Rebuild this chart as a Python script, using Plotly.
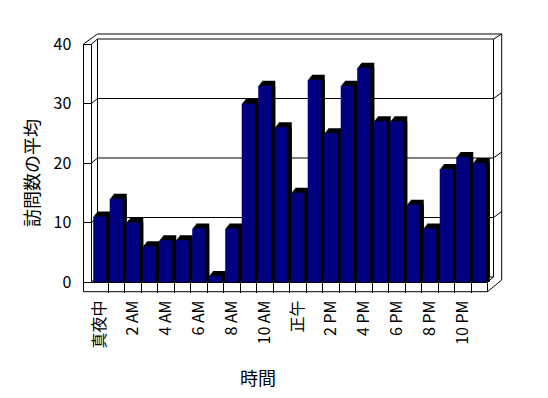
import plotly.graph_objects as go

# ---- data ----
hours = list(range(24))
visits = [11, 14, 10, 6, 7, 7, 9, 1, 9, 30, 33, 26, 15, 34, 25, 33, 36, 27, 27, 13, 9, 19, 21, 20]
tick_hours = [0, 2, 4, 6, 8, 10, 12, 14, 16, 18, 20, 22]
tick_labels = ["真夜中", "2 AM", "4 AM", "6 AM", "8 AM", "10 AM", "正午",
               "2 PM", "4 PM", "6 PM", "8 PM", "10 PM"]
y_ticks = [0, 10, 20, 30, 40]
x_title = "時間"
y_title = "訪問数の平均"

# the page body has an 8px margin, so the figure is 540x390 and offset by 8px
OFF = 8
W, H = 540, 390
FONT = "Noto Sans CJK JP, Noto Sans, sans-serif"

# geometry (window pixels)
FX0, FX1 = 91.5, 487.5      # front category range
FY0, FYT = 282.0, 44.0      # front y: value 0 and value 40
DX, DY = 6.0, -5.0          # depth offset to back wall
FLOOR_B = 291.7
WALL_L = 83.5
OUT_R = 501.7
OUT_T = 34.0
# depth layers used to draw the black top / side faces of each bar
DEPTH_LAYERS = [(1, -1.25), (2, -2.5), (3, -3.75), (4, -5.0), (4, 0.0)]


def px(x):
    return (x - OFF) / W


def py(y):
    return 1 - (y - OFF) / H


fig = go.Figure()
layout_axes = {}
n = len(DEPTH_LAYERS)
for i, (sx, sy) in enumerate(DEPTH_LAYERS):
    idx = "" if i == 0 else str(i + 1)
    fig.add_trace(go.Bar(x=hours, y=visits,
                         marker=dict(color="black", line=dict(width=0)),
                         xaxis="x" + idx, yaxis="y" + idx,
                         hoverinfo="skip", showlegend=False))
    layout_axes["xaxis" + idx] = dict(
        domain=[px(FX0 + sx), px(FX1 + sx)], range=[-0.5, 23.5],
        visible=False, anchor="y" + idx, fixedrange=True, automargin=False)
    layout_axes["yaxis" + idx] = dict(
        domain=[py(FY0 + sy), py(FYT + sy)], range=[0, 40],
        visible=False, anchor="x" + idx, fixedrange=True, automargin=False)

# front faces
fidx = str(n + 1)
fig.add_trace(go.Bar(x=hours, y=visits, marker=dict(color="#000080", line=dict(width=0)),
                     xaxis="x" + fidx, yaxis="y" + fidx, showlegend=False))

axis_font = dict(family=FONT, size=16, color="black")
layout_axes["xaxis" + fidx] = dict(
    domain=[px(FX0), px(FX1)], range=[-0.5, 23.5],
    tickvals=tick_hours, ticktext=tick_labels, tickangle=-90,
    ticks="", ticklabelstandoff=11,
    minor=dict(tickvals=[h + 0.5 for h in hours[:-1]], ticks="outside",
               ticklen=10, tickcolor="black", tickwidth=1),
    showgrid=False, zeroline=False, showline=True, linecolor="black",
    linewidth=1, anchor="y" + fidx, tickfont=axis_font, automargin=False,
    fixedrange=True)
layout_axes["yaxis" + fidx] = dict(
    domain=[py(FY0), py(FYT)], range=[0, 40],
    tickvals=y_ticks, ticks="outside", ticklen=8, tickcolor="black",
    ticklabelstandoff=8, automargin=False,
    showgrid=False, zeroline=False, showline=True, linecolor="black",
    linewidth=1, anchor="x" + fidx, tickfont=axis_font, fixedrange=True)

shapes = []


def line(x0, y0, x1, y1):
    shapes.append(dict(type="line", xref="paper", yref="paper",
                       x0=px(x0), y0=py(y0), x1=px(x1), y1=py(y1),
                       line=dict(color="black", width=1), layer="below"))


scale = (FY0 - FYT) / 40.0
BX0, BX1 = FX0 + DX, FX1 + DX
BY0, BYT = FY0 + DY, FYT + DY

# back-wall gridlines, in the back-plane value axis (layer offset by the wall depth)
for v in y_ticks[1:-1]:
    shapes.append(dict(type="line", xref="paper", yref="y4",
                       x0=px(BX0), x1=px(BX1), y0=v, y1=v,
                       line=dict(color="black", width=1), layer="below"))

# left wall
line(WALL_L, FYT, WALL_L, FLOOR_B)
line(WALL_L, FYT, BX0, OUT_T)
line(FX0, FYT, BX0, BYT)
# back wall
line(BX0, OUT_T, OUT_R, OUT_T)
line(BX0, BYT, BX1, BYT)
line(BX0, BYT, BX0, BY0)
line(BX1, BYT, BX1, BY0)
line(BX1, BYT, OUT_R, OUT_T)
line(OUT_R, OUT_T, OUT_R, BY0 + 3)
# gridline joins (left diagonals and right diagonals)
for v in y_ticks[1:-1]:
    yf = FY0 - v * scale
    line(FX0, yf, BX0, yf + DY)
    line(BX1, yf + DY, OUT_R, yf + DY - 6)
line(FX0, FY0, BX0, BY0)
# floor
line(BX0, BY0, BX1, BY0)
line(WALL_L, FLOOR_B, FX1, FLOOR_B)
line(FX1, FY0, FX1, FLOOR_B)
line(FX1, FY0, BX1, BY0)
line(FX1, FLOOR_B, OUT_R, BY0 + 3)

fig.update_layout(
    width=W, height=H,
    margin=dict(l=0, r=0, t=0, b=0),
    paper_bgcolor="white", plot_bgcolor="rgba(0,0,0,0)",
    bargap=0.21,
    font=axis_font,
    shapes=shapes,
    annotations=[
        dict(text=x_title, xref="paper", yref="paper", x=px(258), y=py(377),
             xanchor="center", yanchor="middle", showarrow=False,
             font=dict(family=FONT, size=18, color="black")),
        dict(text=y_title, xref="paper", yref="paper", x=px(31), y=py(173),
             xanchor="center", yanchor="middle", textangle=-90, showarrow=False,
             font=dict(family=FONT, size=18, color="black")),
    ],
    **layout_axes,
)

fig.write_html("out.html")
